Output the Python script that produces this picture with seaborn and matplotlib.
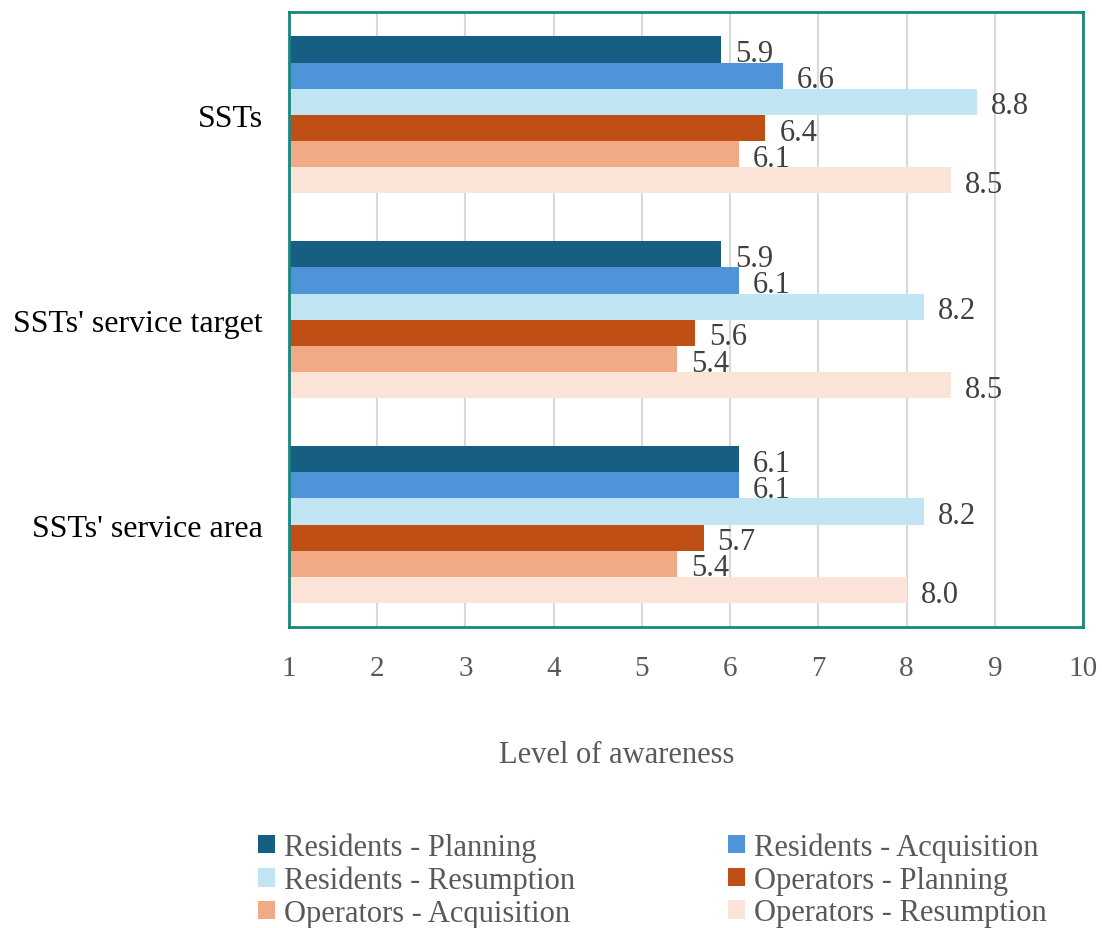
import matplotlib
matplotlib.use("Agg")
import matplotlib.pyplot as plt
import seaborn as sns
import pandas as pd
from matplotlib.patches import Patch

categories = ["SSTs", "SSTs' service target", "SSTs' service area"]
series = [
    "Residents - Planning",
    "Residents - Acquisition",
    "Residents - Resumption",
    "Operators - Planning",
    "Operators - Acquisition",
    "Operators - Resumption",
]
res_planning = [5.9, 5.9, 6.1]
res_acquisition = [6.6, 6.1, 6.1]
res_resumption = [8.8, 8.2, 8.2]
op_planning = [6.4, 5.6, 5.7]
op_acquisition = [6.1, 5.4, 5.4]
op_resumption = [8.5, 8.5, 8.0]
x_ticks = [1, 2, 3, 4, 5, 6, 7, 8, 9, 10]

colors = ["#175f82", "#4f94d8", "#c2e5f4", "#c04f15", "#f1aa86", "#fbe3d7"]

all_values = [res_planning, res_acquisition, res_resumption,
              op_planning, op_acquisition, op_resumption]
rows = []
for name, vals in zip(series, all_values):
    for cat, v in zip(categories, vals):
        rows.append({"category": cat, "series": name, "value": v})
df = pd.DataFrame(rows)

sns.set_style("white")
plt.rcParams["font.family"] = ["Liberation Serif", "DejaVu Serif"]

fig = plt.figure(figsize=(11.02, 9.29), dpi=100)
ax = fig.add_axes([0.2623, 0.324, 0.7205, 0.6615])

sns.barplot(data=df, y="category", x="value", hue="series",
            order=categories, hue_order=series, palette=colors,
            saturation=1, orient="h", width=0.766, ax=ax, legend=False,
            edgecolor="none", linewidth=0)

ax.set_xlim(1, 10)
ax.set_xticks(x_ticks)
ax.set_xticklabels([str(t) for t in x_ticks])
ax.grid(axis="x", color="#d9d9d9", linewidth=1.5)
ax.grid(axis="y", visible=False)
ax.set_axisbelow(True)
for sp in ax.spines.values():
    sp.set_visible(True)
    sp.set_color("#17877f")
    sp.set_linewidth(2)

ax.tick_params(axis="x", length=0, pad=20, labelsize=21, labelcolor="#595959")
ax.tick_params(axis="y", length=0, pad=19, labelsize=23, labelcolor="#000000")
ax.set_ylabel("")
ax.set_xlabel("Level of awareness", fontsize=22, color="#595959")
ax.xaxis.set_label_coords(0.413, -0.184)

for container in ax.containers:
    texts = ax.bar_label(container, fmt="%.1f", padding=10, fontsize=22,
                         color="#404040")
    for t in texts:
        t.xyann = (10, -3)

# legend filled row by row in two columns
order = [0, 2, 4, 1, 3, 5]
handles = [Patch(facecolor=colors[i], edgecolor="none") for i in order]
labels = [series[i] for i in order]
fig.legend(handles, labels, loc="center", bbox_to_anchor=(0.592, 0.0515),
           ncol=2, frameon=False, fontsize=22, labelcolor="#595959",
           handlelength=0.55, handleheight=0.55, handletextpad=0.3,
           columnspacing=5.0, labelspacing=0.12)

fig.savefig("out.png", dpi=100)
